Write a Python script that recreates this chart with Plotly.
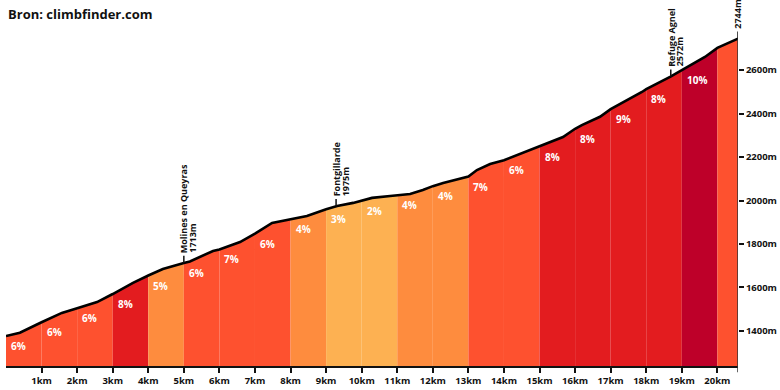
import numpy as np
import plotly.graph_objects as go

# ---- data ----
km = [0, 0.39, 1, 1.57, 2, 2.56, 3, 3.57, 4, 4.41, 5, 5.17, 5.82, 6, 6.58, 7, 7.48, 8,
      8.46, 9, 9.31, 9.76, 10, 10.29, 10.8, 11, 11.36, 11.72, 12, 12.29, 13, 13.24,
      13.61, 14, 14.53, 15, 15.66, 16, 16.19, 16.7, 17, 17.88, 18, 18.67, 19, 19.23,
      19.65, 20, 20.58]
elev = [1377, 1392, 1440, 1483, 1505, 1533, 1570, 1621, 1655, 1685, 1713, 1720, 1768,
        1775, 1809, 1848, 1897, 1915, 1929, 1960, 1975, 1989, 1998, 2012, 2021, 2025,
        2030, 2048, 2066, 2080, 2110, 2140, 2168, 2185, 2218, 2248, 2292, 2330, 2347,
        2385, 2420, 2499, 2512, 2568, 2598, 2620, 2660, 2702, 2744]

seg_edges = [0, 1, 2, 3, 4, 5, 6, 7, 8, 9, 10, 11, 12, 13, 14, 15, 16, 17, 18, 19, 20, 20.58]
seg_grade = ["6%", "6%", "6%", "8%", "5%", "6%", "7%", "6%", "4%", "3%", "2%", "4%", "4%",
             "7%", "6%", "8%", "8%", "9%", "8%", "10%", ""]

CORAL, RED, ORANGE, LIGHT, DARK = "#FE512F", "#E31C1F", "#FE8C3E", "#FDB152", "#BE0029"
seg_color = [CORAL, CORAL, CORAL, RED, ORANGE, CORAL, CORAL, CORAL, ORANGE, LIGHT, LIGHT,
             ORANGE, ORANGE, CORAL, CORAL, RED, RED, RED, RED, DARK, CORAL]

marker_name = ["Molines en Queyras", "Fontgillarde", "Refuge Agnel", ""]
marker_km = [5.0, 9.28, 18.69, 20.58]
marker_elev = ["1713m", "1975m", "2572m", "2744m"]

x_ticks = list(range(1, 21))
x_ticktext = [f"{k}km" for k in x_ticks]
y_ticks = [1400, 1600, 1800, 2000, 2200, 2400, 2600]
y_ticktext = [f"{v}m" for v in y_ticks]
y_range = [1239, 2830]

title = "Bron: climbfinder.com"

# ---- figure ----
FONT = "Open Sans"
fig = go.Figure()
km_a = np.array(km)
el_a = np.array(elev)

for i in range(len(seg_edges) - 1):
    a, b = seg_edges[i], seg_edges[i + 1]
    m = (km_a >= a - 1e-9) & (km_a <= b + 1e-9)
    fig.add_trace(go.Scatter(x=km_a[m], y=el_a[m], mode="lines", fill="tozeroy",
                             fillcolor=seg_color[i], line=dict(width=0, color=seg_color[i]),
                             hoverinfo="skip", showlegend=False))

fig.add_trace(go.Scatter(x=km, y=elev, mode="lines", line=dict(color="#000000", width=2.6),
                         hoverinfo="skip", showlegend=False))

annotations = []
for i in range(len(seg_edges) - 1):
    if not seg_grade[i]:
        continue
    a = seg_edges[i]
    ya = float(np.interp(a, km, elev))
    annotations.append(dict(x=a, y=ya, xref="x", yref="y", text=seg_grade[i],
                            showarrow=False, xanchor="left", yanchor="middle",
                            xshift=4, yshift=-10, borderpad=0,
                            font=dict(family=FONT, size=10, color="white", weight="bold")))

for name, mk, me in zip(marker_name, marker_km, marker_elev):
    base = float(np.interp(mk, km, elev))
    fig.add_trace(go.Scatter(x=[mk, mk], y=[base, base + 33], mode="lines",
                             line=dict(color="#111111", width=1.5),
                             hoverinfo="skip", showlegend=False, cliponaxis=False))
    lines = [t for t in (name, me) if t]
    for j, t in enumerate(lines):
        annotations.append(dict(x=mk, y=base, xref="x", yref="y", text=t, textangle=-90,
                                showarrow=False, xanchor="center", yanchor="bottom",
                                xshift=9 * j, yshift=9, borderpad=0,
                                font=dict(family=FONT, size=9, color="#111111",
                                          weight="bold")))

# right axis line (from just below the x axis up to the summit)
top_frac = (elev[-1] - y_range[0]) / (y_range[1] - y_range[0])
fig.add_shape(type="line", xref="x", yref="paper", x0=seg_edges[-1], x1=seg_edges[-1],
              y0=-0.018, y1=top_frac, line=dict(color="#333333", width=1.5), layer="above")

fig.update_layout(
    width=780, height=390,
    margin=dict(l=6, r=42, t=20, b=24, autoexpand=False),
    paper_bgcolor="white", plot_bgcolor="white",
    title=dict(text=title, x=8 / 780, xref="container", xanchor="left",
               y=1 - 14 / 390, yref="container", yanchor="middle",
               font=dict(family=FONT, size=13, color="#111111", weight="bold"),
               automargin=False),
    annotations=annotations,
    xaxis=dict(range=[0, seg_edges[-1]], tickvals=x_ticks, ticktext=x_ticktext,
               automargin=False,
               showgrid=False, zeroline=False, showline=True, linecolor="#111111",
               linewidth=1.5, ticks="outside", ticklen=5, tickwidth=1.5,
               tickcolor="#111111",
               tickfont=dict(family=FONT, size=9.5, color="#111111", weight="bold")),
    yaxis=dict(range=y_range, side="right", tickvals=y_ticks, ticktext=y_ticktext,
               automargin=False,
               showgrid=False, zeroline=False, showline=False, ticks="outside",
               ticklen=5, tickwidth=1.5, tickcolor="#111111",
               tickfont=dict(family=FONT, size=9.5, color="#111111", weight="bold")),
)

fig.write_html("out.html", config={"displayModeBar": False},
               post_script="document.body.style.margin='0';document.body.style.overflow='hidden';")
